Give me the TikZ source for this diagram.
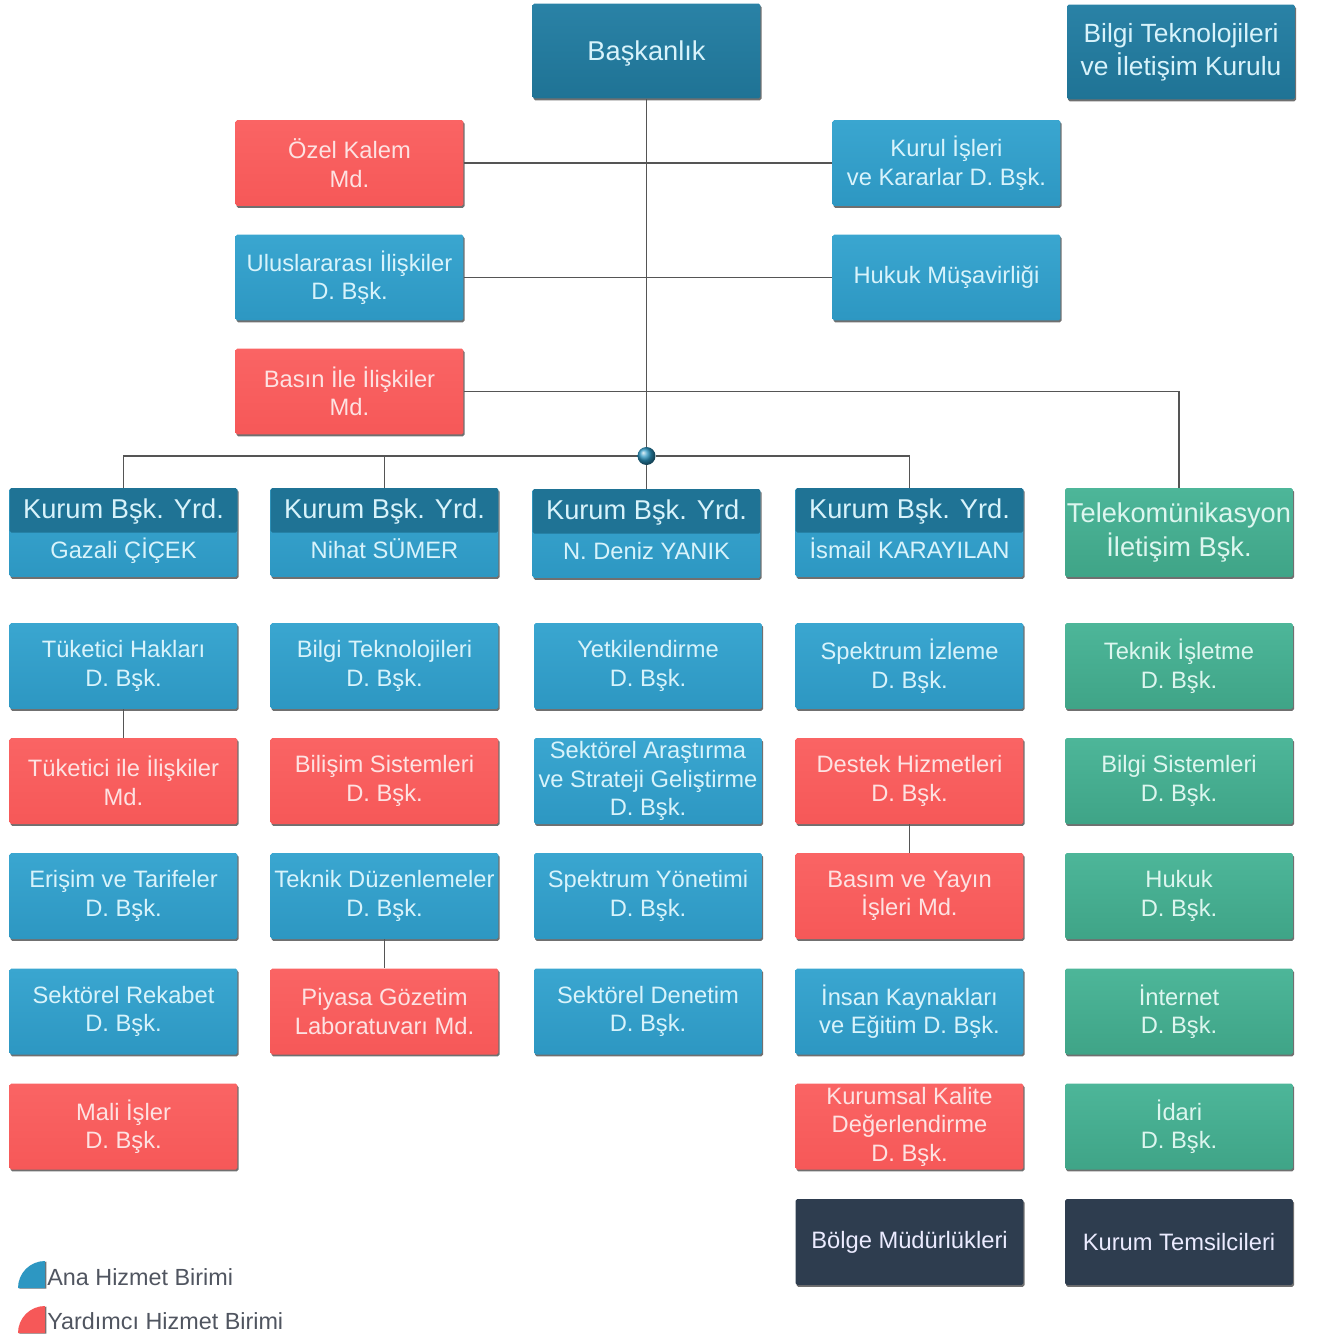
\documentclass[tikz,border=0pt]{standalone}
\usepackage{fontspec}
\setmainfont{Liberation Sans}
\usetikzlibrary{shadows}
\definecolor{anamavi}{HTML}{2D97C2}
\definecolor{anamaviust}{HTML}{3AA6D0}
\definecolor{koyumavi}{HTML}{1F7395}
\definecolor{koyumaviust}{HTML}{2A82A6}
\definecolor{yardkirmizi}{HTML}{F65858}
\definecolor{yardkirmiziust}{HTML}{FA6464}
\definecolor{telyesil}{HTML}{3FA487}
\definecolor{telyesilust}{HTML}{4DB699}
\definecolor{lacivert}{HTML}{2E3D4F}
\definecolor{cizgi}{HTML}{555555}
\definecolor{acikmetin}{HTML}{D8F3FB}
\definecolor{pembemetin}{HTML}{FDE2E2}
\definecolor{yesilmetin}{HTML}{DDF6EF}
\definecolor{lejantmetin}{HTML}{505560}

\begin{document}
\begin{tikzpicture}[x=0.02cm, y=-0.02cm,
  kutu/.style={rectangle, rounded corners=1pt, minimum width=4.56cm, minimum height=1.72cm, inner sep=1pt, align=center,
    font=\fontsize{13.5}{16.2}\selectfont,
    drop shadow={shadow xshift=0.6pt, shadow yshift=-1.1pt, opacity=0.75, fill=black!75}},
  ana/.style={kutu, top color=anamaviust, bottom color=anamavi, text=acikmetin},
  yard/.style={kutu, top color=yardkirmiziust, bottom color=yardkirmizi, text=pembemetin},
  tel/.style={kutu, top color=telyesilust, bottom color=telyesil, text=yesilmetin},
  koyu/.style={kutu, fill=lacivert, text=white!92!blue},
  bas/.style={kutu, top color=koyumaviust, bottom color=koyumavi, text=acikmetin, minimum height=1.9cm, font=\fontsize{15.5}{18.8}\selectfont},
  yrd/.style={ana, minimum height=1.78cm, font=\fontsize{13.5}{22.8}\selectfont, text height=1.16cm, text depth=0.1cm,
    path picture={\fill[koyumavi] (path picture bounding box.north west) rectangle (path picture bounding box.east);}},
  baglanti/.style={draw=cizgi, line width=0.8pt},
  lejant/.style={font=\fontsize{13.3}{16}\selectfont, text=lejantmetin, inner sep=0pt, anchor=west}
]
\useasboundingbox (0,0) rectangle (1318,1338);

% ust kisim
\node[bas, text depth=0pt] (bsk) at (646.5,51) {Başkanlık};
\node[bas, font=\fontsize{15}{18.8}\selectfont] (btk) at (1181,52) {Bilgi Teknolojileri\\ve İletişim Kurulu};
\node[yard] (ozel) at (349.5,163) {Özel Kalem\\Md.};
\node[ana] (kurul) at (946.5,163) {Kurul İşleri\\ve Kararlar D. Bşk.};
\node[ana] (ulus) at (349.5,277.5) {Uluslararası İlişkiler\\D. Bşk.};
\node[ana] (hukuk) at (946.5,277.5) {Hukuk Müşavirliği};
\node[yard] (basin) at (349.5,391.5) {Basın İle İlişkiler\\Md.};
\node[circle, inner sep=0pt, minimum size=0.36cm, ball color=anamavi, shading=ball] (nokta) at (646.5,456) {};

% baskan yardimcilari
\node[yrd] (yrd1) at (123.5,532.5) {{\fontsize{15.5}{22.8}\selectfont Kurum Bşk. Yrd.}\\Gazali ÇİÇEK};
\node[yrd] (yrd2) at (384.5,532.5) {{\fontsize{15.5}{22.8}\selectfont Kurum Bşk. Yrd.}\\Nihat SÜMER};
\node[yrd] (yrd3) at (646.5,533.5) {{\fontsize{15.5}{22.8}\selectfont Kurum Bşk. Yrd.}\\N. Deniz YANIK};
\node[yrd] (yrd4) at (909.5,532.5) {{\fontsize{15.5}{22.8}\selectfont Kurum Bşk. Yrd.}\\İsmail KARAYILAN};
\node[tel, minimum height=1.78cm, font=\fontsize{15.5}{18.8}\selectfont] (tel) at (1179,532.5) {Telekomünikasyon\\İletişim Bşk.};

% 1. sutun
\node[ana] (tuk) at (123.5,666) {Tüketici Hakları\\D. Bşk.};
\node[yard] (tukil) at (123.5,781) {Tüketici ile İlişkiler\\Md.};
\node[ana] (eris) at (123.5,896) {Erişim ve Tarifeler\\D. Bşk.};
\node[ana] (rek) at (123.5,1011.5) {Sektörel Rekabet\\D. Bşk.};
\node[yard] (mali) at (123.5,1126.5) {Mali İşler\\D. Bşk.};

% 2. sutun
\node[ana] (bt) at (384.5,666) {Bilgi Teknolojileri\\D. Bşk.};
\node[yard] (bilisim) at (384.5,781) {Bilişim Sistemleri\\D. Bşk.};
\node[ana] (tekduz) at (384.5,896) {Teknik Düzenlemeler\\D. Bşk.};
\node[yard] (piyasa) at (384.5,1011.5) {Piyasa Gözetim\\Laboratuvarı Md.};

% 3. sutun
\node[ana] (yetki) at (648,666) {Yetkilendirme\\D. Bşk.};
\node[ana] (arast) at (648,781) {Sektörel Araştırma\\ve Strateji Geliştirme\\D. Bşk.};
\node[ana] (spyon) at (648,896) {Spektrum Yönetimi\\D. Bşk.};
\node[ana] (denetim) at (648,1011.5) {Sektörel Denetim\\D. Bşk.};

% 4. sutun
\node[ana] (spizl) at (909.5,666) {Spektrum İzleme\\D. Bşk.};
\node[yard] (destek) at (909.5,781) {Destek Hizmetleri\\D. Bşk.};
\node[yard] (basim) at (909.5,896) {Basım ve Yayın\\İşleri Md.};
\node[ana] (ik) at (909.5,1011.5) {İnsan Kaynakları\\ve Eğitim D. Bşk.};
\node[yard] (kalite) at (909.5,1126.5) {Kurumsal Kalite\\Değerlendirme\\D. Bşk.};
\node[koyu] (bolge) at (909.5,1242) {Bölge Müdürlükleri};

% 5. sutun
\node[tel] (teknik) at (1179,666) {Teknik İşletme\\D. Bşk.};
\node[tel] (bilsis) at (1179,781) {Bilgi Sistemleri\\D. Bşk.};
\node[tel] (hukukd) at (1179,896) {Hukuk\\D. Bşk.};
\node[tel] (internet) at (1179,1011.5) {İnternet\\D. Bşk.};
\node[tel] (idari) at (1179,1126.5) {İdari\\D. Bşk.};
\node[koyu] (temsil) at (1179,1242) {Kurum Temsilcileri};

% baglantilar
\begin{scope}[on background layer/.try]
\draw[baglanti] (bsk.south) -- (nokta);
\draw[baglanti] (ozel.east) -- (kurul.west);
\draw[baglanti] (ulus.east) -- (hukuk.west);
\draw[baglanti] (basin.east) -| (tel.north);
\draw[baglanti] (yrd1.north) |- (nokta) -| (yrd4.north);
\draw[baglanti] (yrd2.north) -- (yrd2.north |- nokta);
\draw[baglanti] (nokta) -- (yrd3.north);
\draw[baglanti] (tuk) -- (tukil);
\draw[baglanti] (tekduz) -- (piyasa);
\draw[baglanti] (destek) -- (basim);
\end{scope}

% lejant
\fill[anamavi, drop shadow={shadow xshift=0.8pt, shadow yshift=-0.4pt, opacity=0.8, fill=black!70}] (45,1288) -- (18,1288) arc[start angle=180, end angle=270, radius=27] -- cycle;
\fill[yardkirmizi, drop shadow={shadow xshift=0.8pt, shadow yshift=-0.4pt, opacity=0.8, fill=black!70}] (45,1333) -- (18,1333) arc[start angle=180, end angle=270, radius=27] -- cycle;
\node[lejant] (lej1) at (47,1277) {Ana Hizmet Birimi};
\node[lejant] (lej2) at (47,1321) {Yardımcı Hizmet Birimi};
\end{tikzpicture}
\end{document}
